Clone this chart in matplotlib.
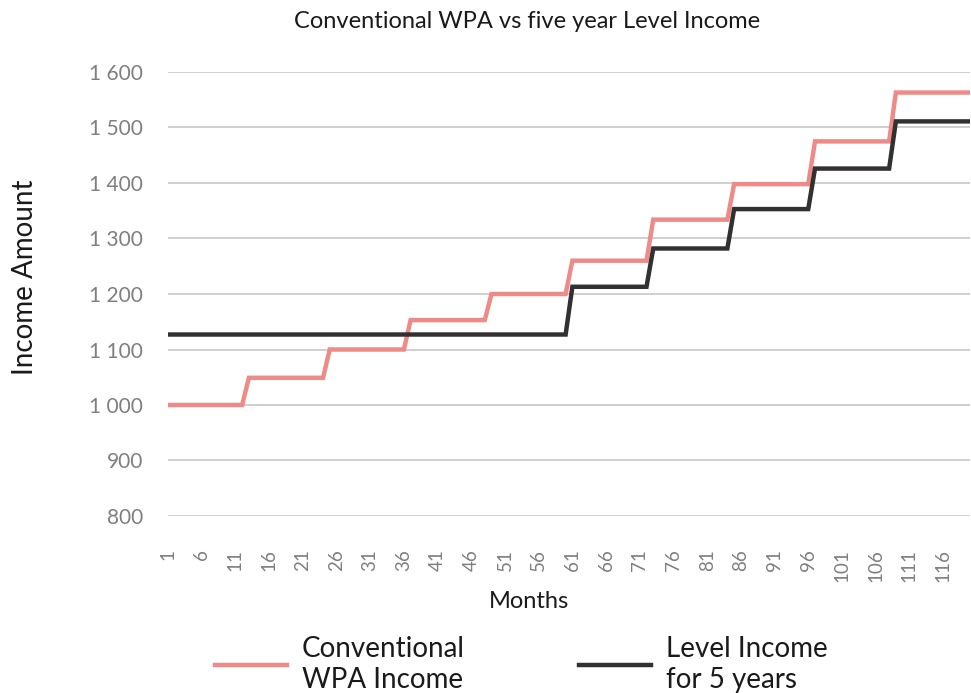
import matplotlib
matplotlib.use("Agg")
import matplotlib.pyplot as plt
import numpy as np

plt.rcParams['font.family'] = ['Lato', 'DejaVu Sans']

# Data: yearly income levels (each held for 12 months)
months = list(range(1, 121))
wpa_levels = [1000, 1049, 1100, 1153, 1200, 1260, 1334, 1398, 1475, 1563]
level_levels = [1127, 1127, 1127, 1127, 1127, 1213, 1282, 1353, 1426, 1511]
wpa_income = [v for v in wpa_levels for _ in range(12)]
level_income = [v for v in level_levels for _ in range(12)]
x_tick_labels = [str(m) for m in months[::5]]
y_ticks = [800, 900, 1000, 1100, 1200, 1300, 1400, 1500, 1600]

title = "Conventional WPA vs five year Level Income"
series_names = ["Conventional\nWPA Income", "Level Income\nfor 5 years"]
pink = "#EE8A88"
dark = "#323031"

fig = plt.figure(figsize=(9.71, 6.93), dpi=100)
ax = fig.add_axes([168/971, (693-516)/693, (970-168)/971, (516-72)/693])

ax.plot(months, wpa_income, color=pink, lw=3.2, label=series_names[0], solid_joinstyle='miter', zorder=3)
ax.plot(months, level_income, color=dark, lw=3.2, label=series_names[1], solid_joinstyle='miter', zorder=3)

ax.set_xlim(1, 120)
ax.set_ylim(800, 1600)
ax.set_yticks(y_ticks)
ax.set_yticklabels([f"{v:,}".replace(",", " ") for v in y_ticks])
ax.set_xticks(months[::5])
ax.set_xticklabels(x_tick_labels, rotation=90)
ax.grid(axis='y', color='#CCCCCC', lw=1.3)
ax.set_axisbelow(True)
for s in ax.spines.values():
    s.set_visible(False)
ax.tick_params(axis='both', length=0, colors='#7F7F7F')
ax.tick_params(axis='y', pad=18, labelsize=15)
ax.tick_params(axis='x', pad=24, labelsize=13.5)

ax.set_xlabel("Months", fontsize=17, color='#1a1a1a')
ax.xaxis.set_label_coords(0.45, -0.17)
ax.set_ylabel("Income Amount", fontsize=20, color='#1a1a1a')
ax.yaxis.set_label_coords(-0.162, 0.538)
fig.text(0.543, 0.969, title, ha='center', va='center', fontsize=17, color='#1a1a1a')

fig.legend(loc='center', bbox_to_anchor=(0.537, 0.041), ncol=2, frameon=False,
           fontsize=20, handlelength=2.6, columnspacing=4.1, handletextpad=0.55, labelcolor='#1a1a1a',
           borderaxespad=0, labelspacing=0.3)

fig.savefig("out.png", dpi=100)
